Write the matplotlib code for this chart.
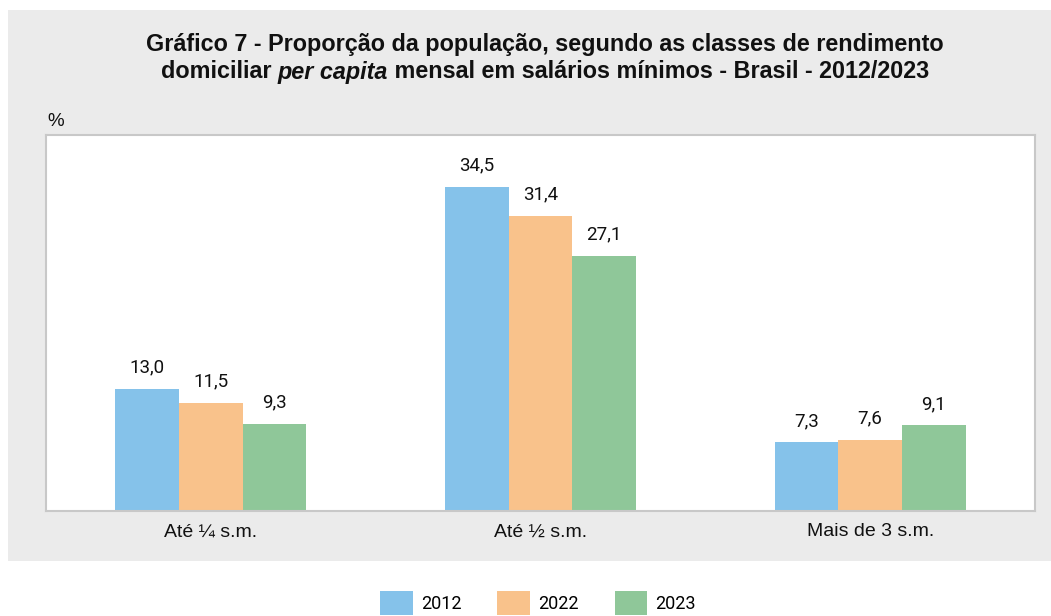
import numpy as np
import matplotlib.pyplot as plt
from matplotlib.patches import Rectangle, Patch

# data
categories = ['Até ¼ s.m.', 'Até ½ s.m.', 'Mais de 3 s.m.']
years = ['2012', '2022', '2023']
v2012 = [13.0, 34.5, 7.3]
v2022 = [11.5, 31.4, 7.6]
v2023 = [9.3, 27.1, 9.1]
colors = ['#85c2ea', '#f9c28b', '#8fc799']

W, H = 1051, 616
fig = plt.figure(figsize=(W / 100, H / 100), dpi=100)
fig.patch.set_facecolor('white')

# gray panel
fig.patches.append(Rectangle((8 / W, 1 - 561 / H), 1 - 8 / W, (561 - 10) / H,
                             transform=fig.transFigure, facecolor='#ebebeb',
                             edgecolor='none', zorder=-5))

ax = fig.add_axes([46 / W, 1 - 511 / H, (1035 - 46) / W, (511 - 135) / H])
ax.set_facecolor('white')

x = np.arange(len(categories))
bw = 0.193
series = [v2012, v2022, v2023]
for i, (vals, c) in enumerate(zip(series, colors)):
    bars = ax.bar(x + (i - 1) * bw, vals, width=bw, color=c, label=years[i], zorder=2)
    for b, v in zip(bars, vals):
        ax.annotate(f'{v:.1f}'.replace('.', ','), (b.get_x() + b.get_width() / 2, v),
                    xytext=(0, 9), textcoords='offset points', ha='center',
                    va='bottom', fontsize=13.5, family='Roboto', color='#111111')

ax.set_xlim(-0.5, 2.5)
ax.set_ylim(0, 40)
ax.set_yticks([])
ax.set_xticks(x)
ax.set_xticklabels(categories, fontsize=14, family='Liberation Sans', color='#111111')
ax.tick_params(axis='x', length=0, pad=9)
for s in ax.spines.values():
    s.set_color('#c8c8c8')
    s.set_linewidth(1.5)

fig.text(47 / W, 1 - 121 / H, '%', fontsize=13.5, family='Liberation Sans',
         va='center', ha='left', color='#111111')

# title
tkw = dict(fontsize=16.8, family='Liberation Sans', weight='bold', color='#111111', va='center')
fig.text(545 / W, 1 - 45 / H, 'Gráfico 7 - Proporção da população, segundo as classes de rendimento',
         ha='center', **tkw)
parts = [('domiciliar ', 'normal'), ('per capita', 'italic'),
         (' mensal em salários mínimos - Brasil - 2012/2023', 'normal')]
texts = [fig.text(0, 1 - 72 / H, p, style=st, ha='left', **tkw) for p, st in parts]
fig.canvas.draw()
r = fig.canvas.get_renderer()
widths = [t.get_window_extent(r).width for t in texts]
xpos = 545 - sum(widths) / 2
for t, w in zip(texts, widths):
    t.set_x(xpos / W)
    xpos += w

# legend
handles = [Patch(facecolor=c, edgecolor='none', label=y) for c, y in zip(colors, years)]
fig.legend(handles=handles, loc='center', bbox_to_anchor=(538 / W, 1 - 603 / H), ncol=3,
           frameon=False, prop={'family': 'Roboto', 'size': 13},
           handlelength=1.8, handleheight=1.6, handletextpad=0.45, columnspacing=2.0)

fig.savefig('out.png', dpi=100)
